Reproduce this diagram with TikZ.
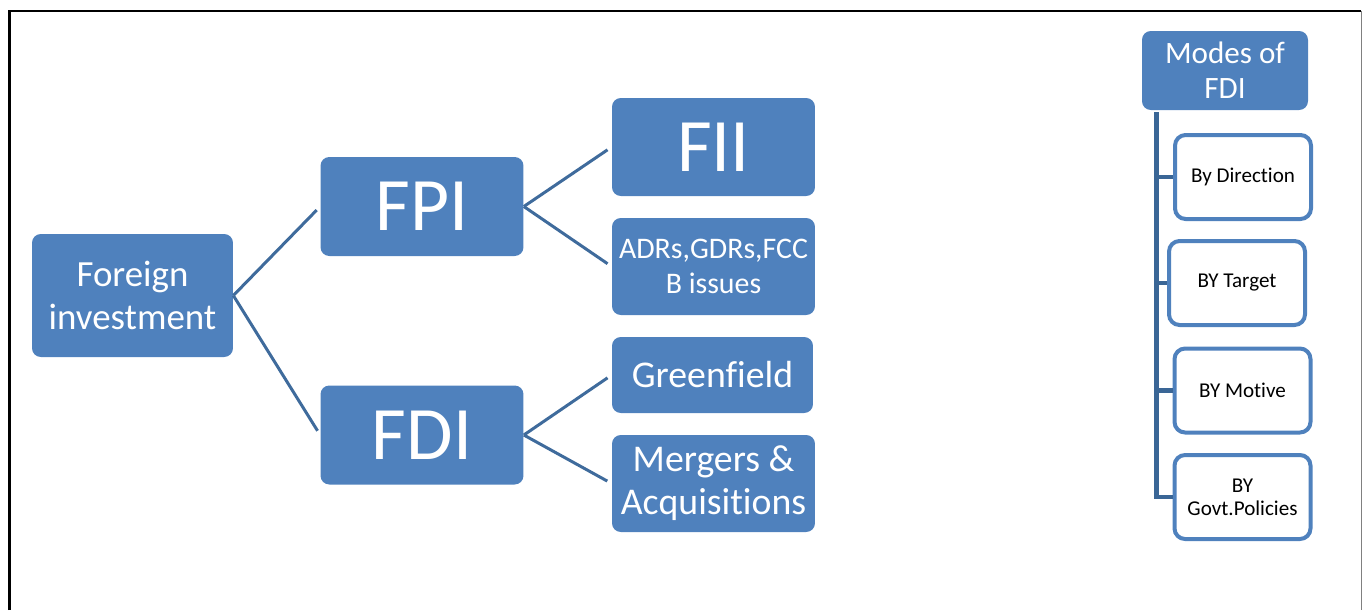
\documentclass[tikz,border=0pt]{standalone}
\usepackage{fontspec}
\setmainfont[Ligatures=NoCommon]{Carlito}
\usepackage{xcolor}
\usepackage{tikz}
\usetikzlibrary{positioning,calc}
\definecolor{boxblue}{HTML}{4F81BD}
\definecolor{linkblue}{HTML}{3F6B9C}
\definecolor{spineblue}{HTML}{3A6696}
\tikzset{
    block/.style={rectangle, fill=boxblue, rounded corners=5pt, align=center, text=white, inner sep=2pt},
    mode/.style={rectangle, draw=boxblue, line width=0.08cm, fill=white, rounded corners=6pt, minimum width=2.72cm, minimum height=1.68cm, align=center, font=\fontsize{12}{13}\selectfont, text=black},
    link/.style={draw=linkblue, line width=0.06cm, shorten >=0.1cm},
    spine/.style={draw=spineblue, line width=0.09cm}
}

\begin{document}
\begin{tikzpicture}[x=0.02cm, y=-0.02cm]
\useasboundingbox (0,0) rectangle (1362,610);

% Frame
\draw[line width=0.05cm] (9.5,610) |- (1361,11);
\draw[gray, line width=0.02cm] (1361,11) -- (1361,610);

% Tree of investment types
\node[block, minimum width=4.02cm, minimum height=2.46cm, font=\fontsize{21}{24}\selectfont] (root) at (132.5,295.5) {Foreign\\investment};
\node[block, minimum width=4.06cm, minimum height=1.98cm, font=\fontsize{43}{46}\selectfont] (fpi) at (422,206.5) {FPI};
\node[block, minimum width=4.06cm, minimum height=1.98cm, font=\fontsize{43}{46}\selectfont] (fdi) at (422,435) {FDI};
\node[block, minimum width=4.06cm, minimum height=1.96cm, font=\fontsize{43}{46}\selectfont] (fii) at (713.5,147) {FII};
\node[block, minimum width=4.06cm, minimum height=1.94cm, font=\fontsize{17}{19.5}\selectfont] (adr) at (713.5,266.5) {ADRs,GDRs,FCC\\B issues};
\node[block, minimum width=4.02cm, minimum height=1.52cm, font=\fontsize{21.5}{24}\selectfont] (green) at (712.5,375) {Greenfield};
\node[block, minimum width=4.06cm, minimum height=1.94cm, font=\fontsize{21.5}{24.4}\selectfont] (merge) at (713.5,483.5) {Mergers \&\\Acquisitions};

% Connectors
\draw[link] (root.east) -- (fpi.west);
\draw[link] (root.east) -- (fdi.west);
\draw[link] (fpi.east) -- (fii.west);
\draw[link] (fpi.east) -- (adr.west);
\draw[link] (fdi.east) -- (green.west);
\draw[link] (fdi.east) -- (merge.west);

% Modes list
\node[block, minimum width=3.32cm, minimum height=1.58cm, font=\fontsize{17.7}{19.8}\selectfont] (modes) at (1225,70.5) {Modes of\\FDI};
\node[mode] (dir) at (1243,177) {By Direction};
\node[mode] (target) at (1237,283) {BY Target};
\node[mode] (motive) at (1242.5,390.5) {BY Motive};
\node[mode] (govt) at (1242.5,497) {BY\\Govt.Policies};

\coordinate (top) at ($(modes.south west)+(15,2)$);
\draw[spine] (top) |- (dir.west);
\draw[spine] (top) |- (target.west);
\draw[spine] (top) |- (motive.west);
\draw[spine] (top) |- (govt.west);

\end{tikzpicture}
\end{document}
